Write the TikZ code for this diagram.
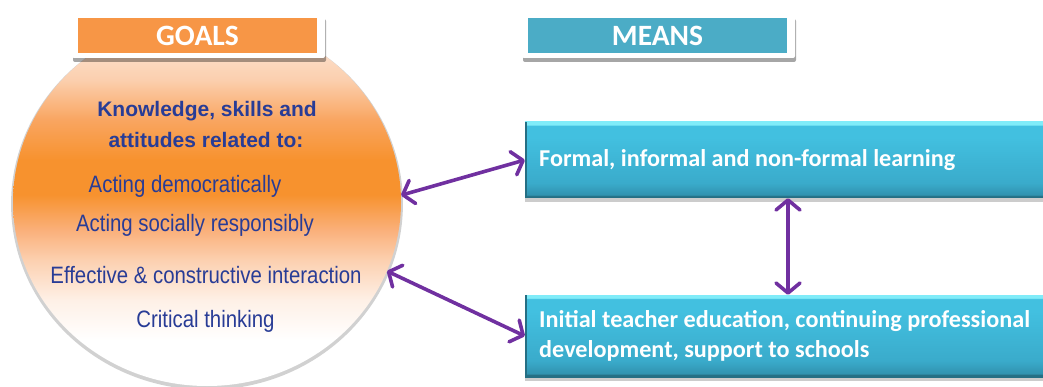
\documentclass[tikz,border=0pt]{standalone}
\usepackage{fontspec}
\usetikzlibrary{shapes.geometric,arrows.meta,shadows}
\newfontfamily\calfont{Carlito}
\newfontfamily\arialfont{Liberation Sans}
\newfontfamily\narrowfont[FakeStretch=0.86]{Liberation Sans}
\definecolor{goalorange}{HTML}{F79646}
\definecolor{meansteal}{HTML}{4BACC6}
\definecolor{txtblue}{RGB}{40,60,150}
\definecolor{arrowpurple}{HTML}{7030A0}
\definecolor{oA}{HTML}{FDE4D4}
\definecolor{oB}{HTML}{FBCFAE}
\definecolor{oC}{HTML}{F9A560}
\definecolor{oD}{HTML}{F7922E}
\definecolor{oE}{HTML}{FAB07A}
\definecolor{oF}{HTML}{FCD0B0}
\definecolor{oG}{HTML}{FEF0E6}
\definecolor{bA}{HTML}{80ECF9}
\definecolor{bB}{HTML}{42C0E0}
\definecolor{bC}{HTML}{3AABCB}
\definecolor{bD}{HTML}{3193B0}
\definecolor{bE}{HTML}{256F84}
\pgfdeclareverticalshading{goalshade}{100bp}{color(0bp)=(white); color(25bp)=(white); color(31.25bp)=(white); color(36.7bp)=(oG); color(42.1bp)=(oF); color(46.2bp)=(oE); color(51bp)=(oD); color(55.7bp)=(oD); color(61.1bp)=(oC); color(66.6bp)=(oB); color(72bp)=(oA); color(75bp)=(oA); color(100bp)=(oA)}
\pgfdeclareverticalshading{boxshade}{100bp}{color(0bp)=(bE); color(26.2bp)=(bE); color(27.2bp)=(bD); color(35bp)=(bC); color(65bp)=(bB); color(72.5bp)=(bB); color(73.3bp)=(bA); color(100bp)=(bA)}
\tikzset{
  headframe/.style={fill=white, rounded corners=2pt, inner sep=0pt,
    drop shadow={shadow xshift=1pt, shadow yshift=-4pt, fill=black, opacity=0.35}},
  headfill/.style={inner sep=0pt, text=white, font=\calfont\bfseries\fontsize{29.5}{32}\selectfont},
  meanbox/.style={shading=boxshade, inner sep=0pt, minimum width=526pt,
    drop shadow={shadow xshift=0pt, shadow yshift=-4pt, fill=black, opacity=0.2}},
  meantext/.style={text=white, inner sep=0pt, align=left, font=\calfont\bfseries\fontsize{24.2}{30}\selectfont},
  goaltextb/.style={text=txtblue, inner sep=0pt, font=\arialfont\bfseries\fontsize{21}{24}\selectfont},
  goaltext/.style={text=txtblue, inner sep=0pt, font=\narrowfont\fontsize{23.7}{26}\selectfont},
  link/.style={draw=arrowpurple, line width=3.6pt, line cap=round,
    {Straight Barb[length=10pt,width=24pt,round]}-{Straight Barb[length=10pt,width=24pt,round]}}
}
\begin{document}
\begin{tikzpicture}[x=1pt,y=-1pt]
\useasboundingbox (0,0) rectangle (1043,387);
\clip (0,0) rectangle (1043,387);
% goals circle
\node[ellipse, minimum width=388pt, minimum height=368pt, inner sep=0pt, shading=goalshade,
  general shadow={shadow scale=1.01, shadow yshift=-2pt, fill=black, opacity=0.18}] (goals) at (207,202) {};
% header boxes
\node[headframe, minimum width=253pt, minimum height=43pt] (gframe) at (198.5,36.5) {};
\node[headfill, fill=goalorange, minimum width=239pt, minimum height=35pt] (gtitle) at (197.5,35.5) {GOALS};
\node[headframe, minimum width=273pt, minimum height=43pt] (mframe) at (658.5,36.5) {};
\node[headfill, fill=meansteal, minimum width=259pt, minimum height=35pt] (mtitle) at (657.5,35.5) {MEANS};
% circle texts
\node[goaltextb, anchor=base] (k1) at (207,117) {Knowledge, skills and};
\node[goaltextb, anchor=base] (k2) at (206,148) {attitudes related to:};
\node[goaltext, anchor=base] (t1) at (185,193) {Acting democratically};
\node[goaltext, anchor=base] (t2) at (195,232) {Acting socially responsibly};
\node[goaltext, anchor=base] (t3) at (206,283) {Effective \& constructive interaction};
\node[goaltext, anchor=base] (t4) at (205.5,327) {Critical thinking};
% means boxes
\node[meanbox, minimum height=76pt] (box1) at (788,160) {};
\node[meanbox, minimum height=82pt] (box2) at (788,336) {};
\draw[bE, line width=2pt] ([xshift=1pt]box1.north west) -- ([xshift=1pt]box1.south west);
\draw[bE, line width=2pt] ([xshift=1pt]box2.north west) -- ([xshift=1pt]box2.south west);
\node[meantext, anchor=base west] (b1t) at (539,167) {Formal, informal and non-formal learning};
\node[meantext, anchor=base west] (b2t) at (539,357) {Initial teacher education, continuing professional\\development, support to schools};
% connectors
\draw[link] (goals.2) -- (box1.west);
\draw[link] (goals.-21) -- (box2.west);
\draw[link] (box1.south) -- (box2.north);
\end{tikzpicture}
\end{document}
